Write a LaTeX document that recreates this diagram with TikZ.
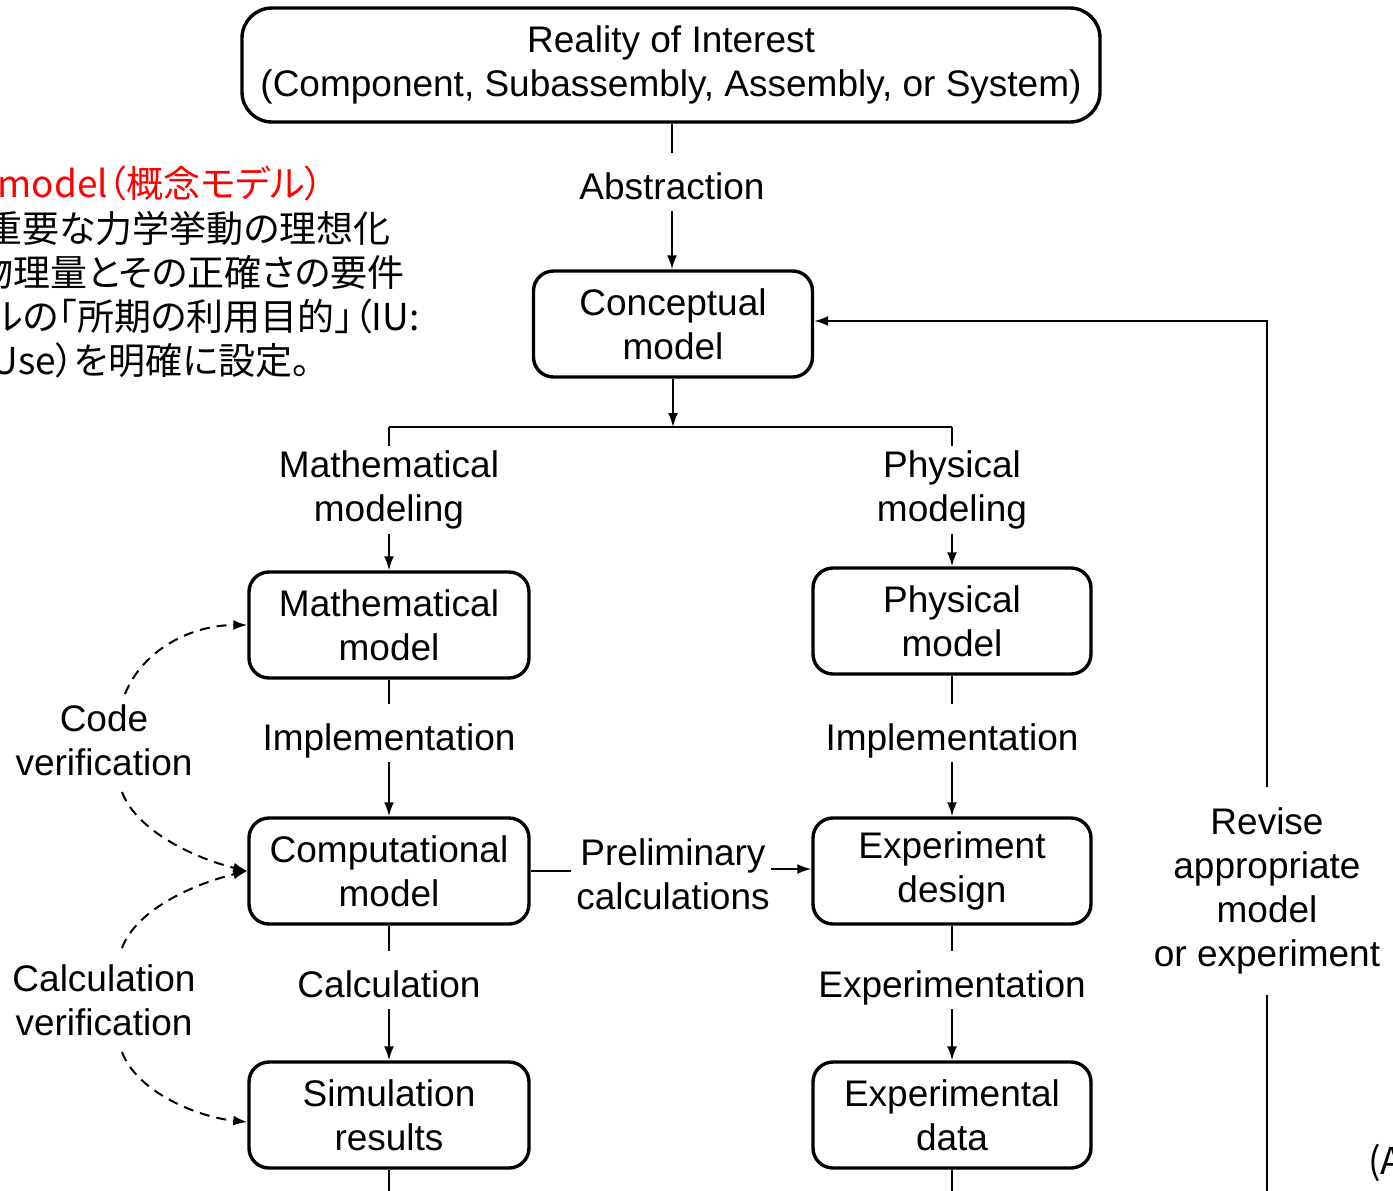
\documentclass[tikz,border=0pt]{standalone}
\usepackage{fontspec}
\setmainfont{Liberation Sans}
\newfontfamily\jp[RawFeature=+palt]{Noto Sans CJK JP}
\usetikzlibrary{arrows.meta,calc}
\newcommand\lblfont{\fontsize{18.5pt}{22pt}\selectfont}
\newcommand\jpfont{\jp\fontsize{18.5pt}{22pt}\selectfont}
\tikzset{
  box/.style={draw, line width=1.7pt, rounded corners=10pt, minimum width=140pt,
    minimum height=53pt, align=center, font=\lblfont, inner sep=0pt},
  lbl/.style={align=center, font=\lblfont, inner xsep=2.5pt, inner ysep=2pt},
  lbl1/.style={align=center, font=\lblfont, inner xsep=2.5pt, inner ysep=4pt,
    text height=19pt, text depth=2pt},
  ln/.style={line width=1pt},
  arr/.style={line width=1pt, -{Latex[length=7pt,width=5pt]}},
  dsh/.style={line width=1pt, dash pattern=on 5pt off 3.5pt, -{Latex[length=7pt,width=5pt]}},
  jpt/.style={font=\jpfont, inner sep=0pt}
}
\begin{document}
\begin{tikzpicture}[x=0.5pt,y=-0.5pt]
\useasboundingbox (0,0) rectangle (1393,1190);
\clip (0,0) rectangle (1393,1190);

% Japanese annotation (clipped at left edge)
\node[jpt, text=red, anchor=west] (j1) at (-3,183) {model（概念モデル）};
\node[jpt, anchor=east] (j2) at (391,228) {重要な力学挙動の理想化};
\node[jpt, anchor=east] (j3) at (405,272) {物理量とその正確さの要件};
\node[jpt, anchor=east] (j4) at (420,316) {ルの「所期の利用目的」（IU:};
\node[jpt, anchor=east] (j5) at (311,360) {Use）を明確に設定。};
\node[jpt, anchor=west] (pa) at (1368,1163) {(A};

% boxes
\node[box, minimum width=429pt, minimum height=57pt, rounded corners=15pt] (real) at (671,65)
  {Reality of Interest\\(Component, Subassembly, Assembly, or System)};
\node[box, minimum width=139.5pt] (concept) at (673,324) {Conceptual\\model};
\node[box] (math) at (389,625) {Mathematical\\model};
\node[box, minimum width=139pt] (phys) at (952,621) {Physical\\model};
\node[box] (comp) at (389,871) {Computational\\model};
\node[box, minimum width=139pt] (expd) at (952,871) {Experiment\\design};
\node[box] (sim) at (389,1115) {Simulation\\results};
\node[box, minimum width=139pt] (edata) at (952,1115) {Experimental\\data};

% labels
\node[lbl1] (abs) at (672,182) {Abstraction};
\node[lbl] (mml) at (389,490) {Mathematical\\modeling};
\node[lbl] (pml) at (952,490) {Physical\\modeling};
\node[lbl1] (imp1) at (389,733) {Implementation};
\node[lbl1] (imp2) at (952,733) {Implementation};
\node[lbl1] (calc) at (389,980) {Calculation};
\node[lbl1] (expt) at (952,980) {Experimentation};
\node[lbl] (pre) at (673,874) {Preliminary\\calculations};
\node[lbl, inner ysep=10pt] (rev) at (1267,891) {Revise\\appropriate\\model\\or experiment};
\node[lbl] (cv) at (104,740) {Code\\verification};
\node[lbl] (clv) at (104,1000) {Calculation\\verification};

% coordinates
\coordinate (bj) at (673,427);
\coordinate (bl) at (389,427);
\coordinate (br) at (952,427);
\coordinate (simb) at (389,1195);
\coordinate (edb) at (952,1195);
\coordinate (rvb) at (1267,1195);

% connectors
\draw[ln] (real.south -| abs.north) -- (abs.north);
\draw[arr] (abs.south) -- (concept.north -| abs.south);
\draw[arr] (concept.south) -- (bj);
\draw[ln] (bl) -- (br);
\draw[ln] (bl) -- (mml.north);
\draw[ln] (br) -- (pml.north);
\draw[arr] (mml.south) -- (math.north);
\draw[arr] (pml.south) -- (phys.north);
\draw[ln] (math.south) -- (imp1.north);
\draw[arr] (imp1.south) -- (comp.north);
\draw[ln] (phys.south) -- (imp2.north);
\draw[arr] (imp2.south) -- (expd.north);
\draw[ln] (comp.south) -- (calc.north);
\draw[arr] (calc.south) -- (sim.north);
\draw[ln] (expd.south) -- (expt.north);
\draw[arr] (expt.south) -- (edata.north);
\draw[ln] (sim.south) -- (simb);
\draw[ln] (edata.south) -- (edb);
\draw[ln] (comp.east) -- (comp.east -| pre.west);
\draw[arr] ($(expd.west -| pre.east)+(-4,-2)$) -- ($(expd.west)+(0,-2)$);
\draw[ln] (rvb) -- (rev.south);
\draw[arr] (rev.north) |- ($(concept.east)+(0,-3)$);

% dashed verification arcs
\draw[dsh] ($(cv.north)+(21,-6)$) .. controls +(18,-45) and +(-55,0) .. (math.west);
\draw[dsh] ($(cv.south)+(18,12)$) .. controls +(15,40) and +(-50,-12) .. (comp.west);
\draw[dsh] ($(clv.north)+(18,-12)$) .. controls +(15,-40) and +(-50,12) .. (comp.west);
\draw[dsh] ($(clv.south)+(18,12)$) .. controls +(15,40) and +(-50,-5) .. ($(sim.west)+(0,7)$);
\end{tikzpicture}
\end{document}
